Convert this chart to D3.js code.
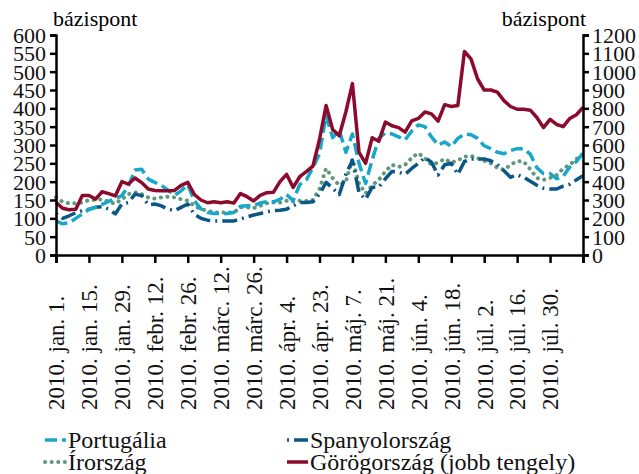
<!DOCTYPE html>
<html>
<head>
<meta charset="utf-8">
<script src="https://cdn.jsdelivr.net/npm/d3@7"></script>
<style>
  body { margin: 0; background: #fff; }
</style>
</head>
<body>
<div id="chart"></div>
<script>
// business-day index of each observation (every 2nd trading day)
var days = d3.range(0, 161, 2);

var dateLabels = ['2010. jan. 1.', '2010. jan. 15.', '2010. jan. 29.', '2010. febr. 12.',
  '2010. febr. 26.', '2010. márc. 12.', '2010. márc. 26.', '2010. ápr. 4.', '2010. ápr. 23.',
  '2010. máj. 7.', '2010. máj. 21.', '2010. jún. 4.', '2010. jún. 18.', '2010. júl. 2.',
  '2010. júl. 16.', '2010. júl. 30.'];

var leftTicks = d3.range(0, 601, 50);
var rightTicks = d3.range(0, 1201, 100);

// bázispont, left axis
var portugal = [93, 85, 88, 100, 112, 124, 130, 138, 146, 154, 162, 188, 232, 234, 207, 198,
  190, 177, 163, 175, 192, 148, 126, 116, 113, 113, 113, 116, 133, 134, 134, 142, 145, 145,
  152, 165, 148, 192, 205, 238, 276, 380, 320, 340, 280, 330, 250, 195, 260, 318, 333, 330,
  322, 314, 338, 355, 350, 322, 300, 308, 296, 318, 330, 328, 318, 298, 290, 280, 276, 285,
  290, 290, 275, 238, 222, 222, 208, 215, 240, 255, 278];

var spain = [113, 100, 107, 115, 121, 125, 130, 132, 125, 112, 139, 143, 166, 162, 137, 139,
  134, 125, 121, 130, 139, 111, 100, 95, 93, 93, 93, 93, 98, 104, 109, 113, 118, 121, 122,
  125, 134, 143, 143, 145, 166, 198, 182, 165, 220, 258, 170, 152, 185, 185, 208, 228, 226,
  220, 236, 250, 266, 253, 218, 246, 250, 220, 255, 262, 262, 262, 257, 247, 230, 212, 219,
  212, 201, 190, 182, 180, 180, 188, 193, 205, 216];

var ireland = [157, 145, 141, 141, 143, 150, 150, 152, 145, 140, 152, 166, 171, 166, 157, 154,
  157, 159, 157, 152, 148, 134, 125, 121, 116, 116, 116, 116, 130, 130, 128, 134, 141, 143,
  143, 148, 146, 148, 147, 150, 180, 236, 210, 190, 200, 262, 195, 168, 190, 205, 228, 246,
  240, 246, 265, 278, 264, 246, 252, 262, 252, 258, 268, 270, 264, 257, 250, 238, 232, 246,
  256, 255, 234, 210, 205, 210, 218, 236, 246, 262, 276];

// bázispont, right axis
var greece = [287, 255, 247, 250, 325, 325, 305, 345, 335, 322, 400, 387, 420, 395, 360, 352,
  350, 350, 352, 380, 396, 330, 300, 285, 290, 285, 290, 283, 335, 318, 295, 325, 340, 342,
  400, 440, 369, 427, 455, 485, 630, 815, 685, 650, 780, 935, 560, 500, 640, 620, 725, 705,
  695, 670, 731, 745, 780, 770, 730, 820, 810, 815, 1110, 1070, 960, 900, 900, 888, 842, 810,
  795, 795, 790, 750, 695, 740, 712, 700, 745, 765, 805];

var FONT = '"Liberation Serif", "Times New Roman", Times, "DejaVu Serif", serif';

var width = 639, height = 474;
var margin = {top: 35, right: 56, bottom: 219, left: 56};

var svg = d3.select('#chart').append('svg')
  .attr('width', width)
  .attr('height', height);

var x = d3.scaleLinear().domain([0, 160]).range([margin.left, width - margin.right]);
var yL = d3.scaleLinear().domain([0, 600]).range([height - margin.bottom, margin.top]);
var yR = d3.scaleLinear().domain([0, 1200]).range([height - margin.bottom, margin.top]);

var series = [
  {name: 'Írország', values: ireland, y: yL, color: '#5f987c', dash: '0.1,6.5', cap: 'round', width: 4},
  {name: 'Spanyolország', values: spain, y: yL, color: '#0a5686', dash: '2,5,15,5', cap: 'butt', width: 3.5},
  {name: 'Portugália', values: portugal, y: yL, color: '#17a8c9', dash: '12,5', cap: 'butt', width: 3.5},
  {name: 'Görögország (jobb tengely)', values: greece, y: yR, color: '#8c0a2c', dash: null, cap: 'butt', width: 3.5}
];

series.forEach(function (s) {
  var line = d3.line()
    .x(function (d, i) { return x(days[i]); })
    .y(function (d) { return s.y(d); });
  svg.append('path')
    .datum(s.values)
    .attr('fill', 'none')
    .attr('stroke', s.color)
    .attr('stroke-width', s.width)
    .attr('stroke-linecap', s.cap)
    .attr('stroke-linejoin', 'round')
    .attr('stroke-dasharray', s.dash)
    .attr('d', line);
});

// axes
var axisLeft = svg.append('g')
  .attr('transform', 'translate(' + margin.left + ',0)')
  .call(d3.axisLeft(yL).tickValues(leftTicks).tickSize(6).tickPadding(4).tickFormat(d3.format('d')));

var axisRight = svg.append('g')
  .attr('transform', 'translate(' + (width - margin.right) + ',0)')
  .call(d3.axisRight(yR).tickValues(rightTicks).tickSize(6).tickPadding(3).tickFormat(d3.format('d')));

var axisBottom = svg.append('g')
  .attr('transform', 'translate(0,' + (height - margin.bottom) + ')')
  .call(d3.axisBottom(x).tickValues(d3.range(0, 161, 10)).tickSize(8)
    .tickFormat(function (d) { return dateLabels[d / 10] || ''; }));

[axisLeft, axisRight, axisBottom].forEach(function (g) {
  g.attr('font-family', FONT);
  g.select('.domain').attr('stroke', '#000').attr('stroke-width', 2.5);
  g.selectAll('.tick line').attr('stroke', '#000').attr('stroke-width', 2.5);
  g.selectAll('.tick text').attr('fill', '#111').style('font-family', FONT);
});
axisLeft.selectAll('.tick text').style('font-size', '22px').attr('dy', '0.34em');
axisRight.selectAll('.tick text').style('font-size', '22px').attr('dy', '0.34em');

axisBottom.selectAll('.tick text')
  .style('font-size', '23px')
  .attr('text-anchor', 'start')
  .attr('transform', 'rotate(-90)')
  .attr('x', -155)
  .attr('y', 0)
  .attr('dy', '0.34em');

// unit labels
svg.append('text').attr('x', 53).attr('y', 26)
  .style('font-family', FONT).style('font-size', '22px').text('bázispont');
svg.append('text').attr('x', 586).attr('y', 26).attr('text-anchor', 'end')
  .style('font-family', FONT).style('font-size', '22px').text('bázispont');

// legend
var legendItems = [
  {s: series[2], x: 45, y: 440},
  {s: series[1], x: 287, y: 440},
  {s: series[0], x: 45, y: 462},
  {s: series[3], x: 287, y: 462}
];
var legend = svg.append('g');
legendItems.forEach(function (it) {
  legend.append('line')
    .attr('x1', it.x).attr('x2', it.x + 21)
    .attr('y1', it.y).attr('y2', it.y)
    .attr('stroke', it.s.color)
    .attr('stroke-width', it.s.width)
    .attr('stroke-linecap', it.s.cap)
    .attr('stroke-dasharray', it.s.dash);
  legend.append('text')
    .attr('x', it.x + 23)
    .attr('y', it.y + 7.5)
    .style('font-family', FONT)
    .style('font-size', '24px')
    .attr('fill', '#111')
    .text(it.s.name);
});
</script>
</body>
</html>
